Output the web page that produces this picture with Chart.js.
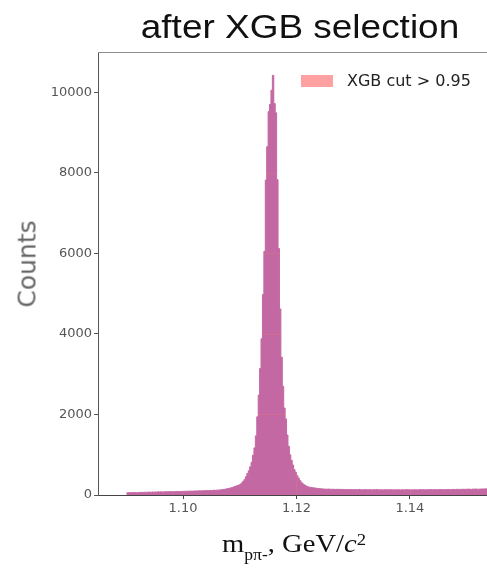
<!DOCTYPE html>
<html>
<head>
<meta charset="utf-8">
<script src="https://cdn.jsdelivr.net/npm/chart.js@4.4.1/dist/chart.umd.min.js"></script>
<style>
  html, body { margin: 0; padding: 0; background: #fff; }
  #wrap { position: relative; width: 487px; height: 568px; overflow: hidden; }
  #c { position: absolute; left: 0; top: 0; }
  .txt { position: absolute; white-space: nowrap; line-height: 1; }
  #title { left: 0; width: 600px; top: 10px; text-align: center; font-family: "Liberation Sans", Arial, sans-serif; font-size: 33px; color: #111; transform: scaleX(1.12); transform-origin: 300px 0; }
  #ylab { left: 27px; top: 264px; font-family: "DejaVu Sans", sans-serif; font-size: 25px; color: #666; transform: translate(-50%, -50%) rotate(-90deg); }
  #legend { left: 301px; top: 72px; font-family: "DejaVu Sans", sans-serif; font-size: 16px; color: #222; display: flex; align-items: center; height: 18px; }
  #legend .sw { display: inline-block; width: 32px; height: 12px; background: rgb(255,161,161); margin-right: 14px; }
  #xlab { left: 222px; top: 531px; font-family: "Liberation Serif", "Times New Roman", serif; font-size: 26px; color: #111; transform: scaleX(1.1); transform-origin: 0 0; }
  #xlab .sub { font-size: 16px; vertical-align: -8px; }
  #xlab .sup { font-size: 17px; vertical-align: 7px; }
</style>
</head>
<body>
<div id="wrap">
  <canvas id="c" width="487" height="568"></canvas>
  <div id="title" class="txt">after XGB selection</div>
  <div id="ylab" class="txt">Counts</div>
  <div id="legend" class="txt"><span class="sw"></span><span>XGB cut &gt; 0.95</span></div>
  <div id="xlab" class="txt">m<span class="sub">pπ-</span>, GeV/<i>c</i><span class="sup">2</span></div>
</div>
<script>
// Histogram binning: first edge and bin width (GeV/c^2)
const binStart = 1.09;
const binWidth = 0.00025;

// Counts per bin, low-mass sideband (1.0900 - 1.1075)
const countsLow = [
  52, 58, 55, 61, 57, 63, 60, 58, 64, 62,
  66, 63, 69, 65, 70, 68, 72, 67, 74, 71,
  75, 72, 78, 74, 80, 77, 76, 82, 79, 84,
  81, 86, 83, 80, 88, 85, 90, 87, 84, 92,
  89, 94, 91, 96, 93, 98, 95, 100, 97, 102,
  99, 104, 101, 106, 103, 109, 105, 111, 108, 114,
  112, 118, 115, 121, 119, 126, 124, 131, 136, 142
];

// Counts per bin, Lambda peak region (1.1075 - 1.1250)
const countsPeak = [
  150, 158, 166, 172, 185, 196, 208, 222, 236, 248,
  268, 300, 340, 385, 455, 535, 605, 700, 815, 990,
  1170, 1470, 1940, 2480, 3140, 3880, 4980, 6050, 7820, 8650,
  9520, 9700, 10050, 10420, 9720, 9490, 7830, 6120, 4620, 3420,
  2700, 2160, 1890, 1490, 1210, 1000, 860, 745, 630, 565,
  485, 420, 360, 315, 278, 252, 232, 214, 201, 192,
  185, 181, 176, 172, 166, 161, 158, 153, 150, 147
];

// Counts per bin, high-mass sideband (1.1250 - 1.1540)
const countsHigh = [
  146, 143, 148, 141, 145, 139, 144, 137, 142, 140,
  136, 141, 134, 139, 132, 137, 135, 130, 138, 133,
  131, 136, 129, 134, 138, 131, 127, 135, 130, 133,
  128, 134, 131, 126, 133, 129, 136, 130, 127, 132,
  129, 125, 133, 128, 131, 126, 134, 129, 124, 131,
  127, 133, 128, 125, 131, 129, 126, 134, 128, 132,
  125, 130, 127, 133, 129, 126, 131, 135, 128, 132,
  130, 127, 134, 129, 136, 131, 128, 135, 132, 129,
  136, 131, 138, 133, 130, 137, 134, 139, 132, 136,
  140, 135, 138, 142, 136, 141, 138, 143, 139, 145,
  141, 146, 143, 139, 147, 144, 149, 145, 142, 148,
  146, 151, 147, 153, 149, 150
];

// Axis tick values
const xTicks = [1.10, 1.12, 1.14];
const yTicks = [0, 2000, 4000, 6000, 8000, 10000];

const seriesLabel = "XGB cut > 0.95";
const fillColor = "rgb(196,104,163)";

// Step outline: one point per left bin edge, plus the closing right edge
const counts = countsLow.concat(countsPeak, countsHigh);
const points = counts.map((c, i) => ({ x: binStart + i * binWidth, y: c }));
points.push({ x: binStart + counts.length * binWidth, y: counts[counts.length - 1] });

// Top frame line and faint grid traces that show only on top of the filled bars
const framePlugin = {
  id: "frame",
  afterDatasetsDraw(chart) {
    const { ctx, chartArea: a, scales } = chart;
    ctx.save();
    ctx.beginPath();
    ctx.rect(a.left + 1, a.top, a.right - a.left - 1, a.bottom - a.top - 1);
    ctx.clip();
    ctx.globalCompositeOperation = "source-atop";
    ctx.strokeStyle = "rgba(232,118,112,0.4)";
    ctx.lineWidth = 1;
    yTicks.slice(1).forEach(v => {
      const y = Math.round(scales.y.getPixelForValue(v)) + 0.5;
      ctx.beginPath(); ctx.moveTo(a.left, y); ctx.lineTo(a.right, y); ctx.stroke();
    });
    xTicks.forEach(v => {
      const x = Math.round(scales.x.getPixelForValue(v)) + 0.5;
      ctx.beginPath(); ctx.moveTo(x, a.top); ctx.lineTo(x, a.bottom); ctx.stroke();
    });
    ctx.restore();
  },
  afterDraw(chart) {
    const { ctx, chartArea: a } = chart;
    ctx.save();
    ctx.strokeStyle = "#8c8c8c";
    ctx.lineWidth = 1;
    ctx.beginPath();
    ctx.moveTo(a.left, a.top + 0.5);
    ctx.lineTo(a.right, a.top + 0.5);
    ctx.stroke();
    ctx.restore();
  }
};

const tickFont = { family: "'DejaVu Sans', sans-serif", size: 13 };

new Chart(document.getElementById("c"), {
  type: "line",
  data: {
    datasets: [{
      label: seriesLabel,
      data: points,
      stepped: true,
      fill: "origin",
      backgroundColor: fillColor,
      borderColor: fillColor,
      borderWidth: 1,
      pointRadius: 0,
      tension: 0
    }]
  },
  options: {
    responsive: false,
    animation: false,
    devicePixelRatio: 1,
    layout: { padding: { top: 52, right: 0, bottom: 43, left: 0 } },
    plugins: {
      legend: { display: false },
      tooltip: { enabled: false },
      title: { display: false }
    },
    scales: {
      x: {
        type: "linear",
        min: 1.085,
        max: 1.1536,
        afterFit(s) { s.height = 30; },
        afterBuildTicks(s) { s.ticks = xTicks.map(v => ({ value: v })); },
        ticks: {
          callback: v => v.toFixed(2),
          font: tickFont,
          color: "#555",
          padding: 2,
          maxRotation: 0,
          autoSkip: false
        },
        grid: { drawOnChartArea: false, tickLength: 4, tickColor: "#444" },
        border: { color: "#444", width: 1 }
      },
      y: {
        min: 0,
        max: 11000,
        afterFit(s) { s.width = 98; },
        afterBuildTicks(s) { s.ticks = yTicks.map(v => ({ value: v })); },
        ticks: {
          callback: v => String(v),
          font: tickFont,
          color: "#555",
          padding: 2,
          autoSkip: false
        },
        grid: { drawOnChartArea: false, tickLength: 4, tickColor: "#555" },
        border: { color: "#555", width: 1 }
      }
    }
  },
  plugins: [framePlugin]
});
</script>
</body>
</html>
